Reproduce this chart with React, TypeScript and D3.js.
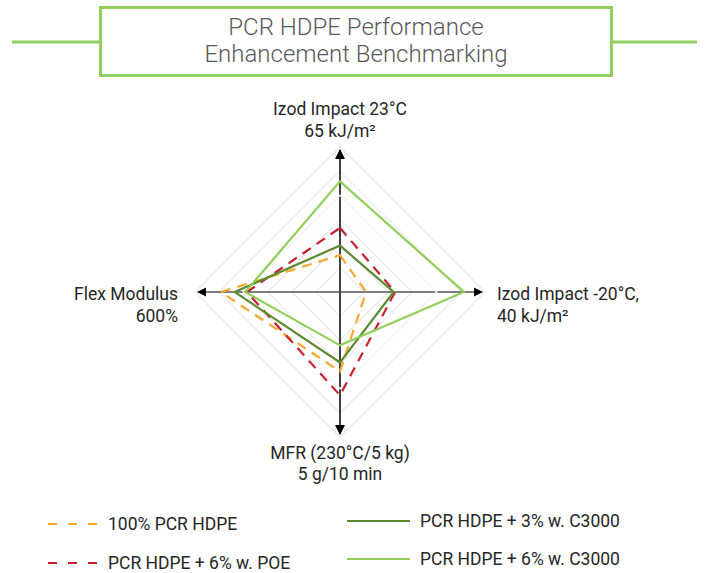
import * as d3 from 'd3';

// axes (clockwise from top) and their full-scale values
const axisNames = ['Izod Impact 23°C', 'Izod Impact -20°C,', 'MFR (230°C/5 kg)', 'Flex Modulus'];
const axisUnits = ['65 kJ/m²', '40 kJ/m²', '5 g/10 min', '600%'];
const axisMax = [65, 40, 5, 600];

const seriesNames = ['100% PCR HDPE', 'PCR HDPE + 6% w. POE', 'PCR HDPE + 3% w. C3000', 'PCR HDPE + 6% w. C3000'];
const pcr100 = [16.5, 7.2, 2.74, 493];
const poe6 = [28.7, 15.2, 3.56, 385];
const c3000_3 = [20.8, 14.8, 2.43, 436];
const c3000_6 = [49.6, 34.2, 1.84, 392];

const ringLevels = [1, 2, 3, 4, 5, 6];

const W = 707;
const H = 573;
const cx = 340;
const cy = 292;
const R = 145;

const colors = ['#f9a72b', '#c8202f', '#5b8a2f', '#92cf5a'];
const dashed = [true, true, false, false];

export default function App() {
    const seriesValues = [pcr100, poe6, c3000_3, c3000_6];
    const ringScale = d3.scaleLinear().domain([0, 6]).range([0, R]);
    const axisScales = axisMax.map((m) => d3.scaleLinear().domain([0, m]).range([0, R]));
    const angle = (i: number) => (i * Math.PI) / 2 - Math.PI / 2;

    const point = (i: number, r: number): [number, number] => [cx + r * Math.cos(angle(i)), cy + r * Math.sin(angle(i))];
    const line = d3.line().curve(d3.curveLinearClosed);

    const ringPath = (lvl: number) => line(axisNames.map((_, i) => point(i, ringScale(lvl)))) || '';

    const arrowLen = 142;
    const font = 'Roboto, "DejaVu Sans", sans-serif';

    return (
        <svg width={W} height={H} style={{ position: 'absolute', left: 0, top: 0, background: '#fff' }}>
            <defs>
                <marker id="arrow" viewBox="0 0 10 10" refX="9" refY="5" markerWidth="7" markerHeight="7" orient="auto">
                    <path d="M0,0 L10,5 L0,10 Z" fill="#000" />
                </marker>
            </defs>

            {/* title box */}
            <line x1={12} x2={100} y1={42} y2={42} stroke="#92cf5a" strokeWidth={3} />
            <line x1={612} x2={697} y1={42} y2={42} stroke="#92cf5a" strokeWidth={3} />
            <rect x={100.5} y={7.5} width={511} height={68} fill="#fff" stroke="#92cf5a" strokeWidth={3} />
            <text x={356} y={35} textAnchor="middle" fontFamily={font} fontSize={24} fontWeight={300} fill="#595959">PCR HDPE Performance</text>
            <text x={356} y={62} textAnchor="middle" fontFamily={font} fontSize={24} fontWeight={300} fill="#595959">Enhancement Benchmarking</text>

            {/* grid rings */}
            {ringLevels.map((l) => (
                <path key={l} d={ringPath(l)} fill="none" stroke="#ececec" strokeWidth={1.5} />
            ))}

            {/* axes */}
            {axisNames.map((_, i) => {
                const [x2, y2] = point(i, arrowLen);
                const vertical = i % 2 === 0;
                return (
                    <line key={i} x1={cx} y1={cy} x2={x2} y2={y2}
                        stroke={vertical ? '#000' : '#555'} strokeWidth={vertical ? 1.5 : 1.3}
                        markerEnd="url(#arrow)" />
                );
            })}
            <path d={ringPath(4)} fill="none" stroke="#f4f4f4" strokeWidth={1.5} />

            {/* series */}
            {seriesValues.map((vals, s) => (
                <path key={s}
                    d={line(vals.map((v, i) => point(i, axisScales[i](v)))) || ''}
                    fill="none" stroke={colors[s]} strokeWidth={2.2}
                    strokeDasharray={dashed[s] ? '10 7' : undefined} strokeLinejoin="miter" />
            ))}

            {/* axis labels */}
            <g fontFamily={font} fontSize={17.5} fill="#262626">
                <text x={cx} y={115} textAnchor="middle">{axisNames[0]}</text>
                <text x={cx} y={137} textAnchor="middle">{axisUnits[0]}</text>
                <text x={497} y={300}>{axisNames[1]}</text>
                <text x={497} y={322}>{axisUnits[1]}</text>
                <text x={cx} y={459} textAnchor="middle">{axisNames[2]}</text>
                <text x={cx} y={480} textAnchor="middle">{axisUnits[2]}</text>
                <text x={178} y={300} textAnchor="end">{axisNames[3]}</text>
                <text x={178} y={322} textAnchor="end">{axisUnits[3]}</text>
            </g>

            {/* legend */}
            <g fontFamily={font} fontSize={17.5} fill="#262626">
                {seriesNames.map((name, s) => {
                    const col = s < 2 ? 0 : 1;
                    const row = s % 2;
                    const x0 = col === 0 ? 48 : 347;
                    const x1 = col === 0 ? 100 : 410;
                    const ly = col === 0 ? 524 + row * 39 : 521 + row * 38;
                    const tx = col === 0 ? 108 : 420;
                    return (
                        <g key={s}>
                            <line x1={x0} x2={x1} y1={ly} y2={ly} stroke={colors[s]} strokeWidth={2.2}
                                strokeDasharray={dashed[s] ? '9 11' : undefined} />
                            <text x={tx} y={ly + 6}>{name}</text>
                        </g>
                    );
                })}
            </g>
        </svg>
    );
}
